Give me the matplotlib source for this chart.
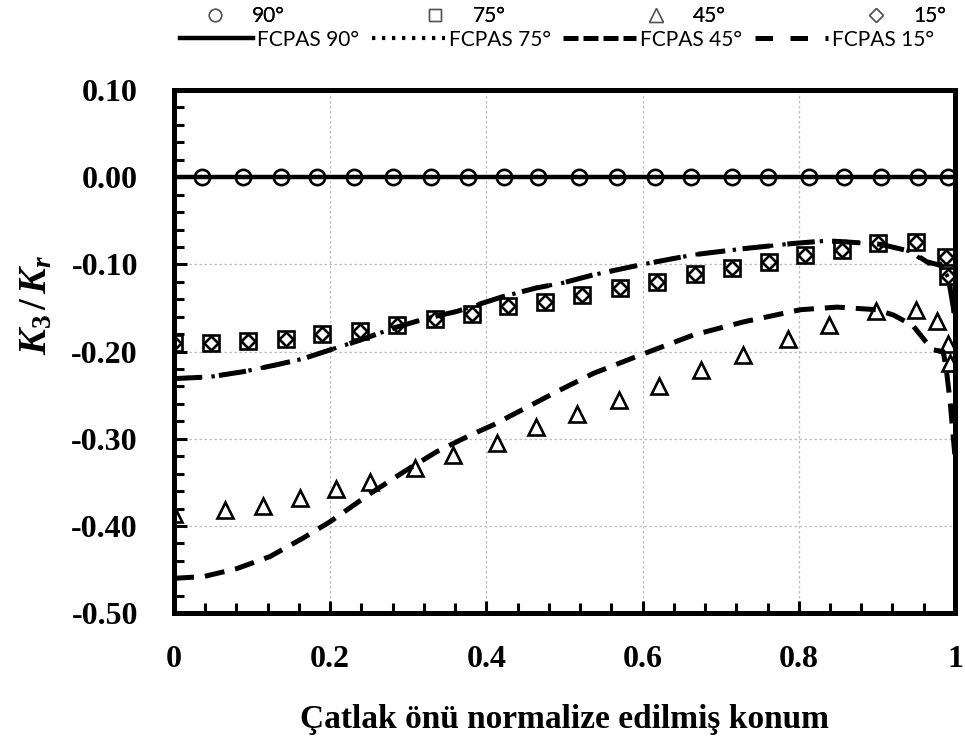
import matplotlib
matplotlib.use("Agg")
import matplotlib.pyplot as plt
from matplotlib.lines import Line2D
from matplotlib.ticker import MultipleLocator

# ---------------------------------------------------------------
# Data: K3/Kr along the normalized crack front
# ---------------------------------------------------------------
x_90 = [0.036, 0.088, 0.137, 0.183, 0.231, 0.281, 0.329, 0.376, 0.423, 0.466,
        0.519, 0.567, 0.616, 0.662, 0.714, 0.761, 0.813, 0.858, 0.905, 0.953, 0.991]
k_90 = [0.0] * 21

x_75 = [0.0, 0.048, 0.095, 0.143, 0.190, 0.238, 0.286, 0.334, 0.381, 0.428, 0.475,
        0.523, 0.571, 0.619, 0.667, 0.714, 0.762, 0.808, 0.855, 0.902, 0.950, 0.988, 0.991]
k_75 = [-0.190, -0.190, -0.188, -0.185, -0.180, -0.176, -0.169, -0.163, -0.157, -0.148,
        -0.143, -0.135, -0.127, -0.120, -0.111, -0.104, -0.097, -0.089, -0.083, -0.076,
        -0.074, -0.092, -0.113]

x_15 = [0.0, 0.048, 0.095, 0.143, 0.190, 0.238, 0.286, 0.334, 0.381, 0.428, 0.475,
        0.523, 0.571, 0.619, 0.667, 0.714, 0.762, 0.808, 0.855, 0.902, 0.950, 0.988, 0.991]
k_15 = [-0.190, -0.190, -0.188, -0.185, -0.180, -0.176, -0.169, -0.163, -0.157, -0.148,
        -0.143, -0.135, -0.127, -0.120, -0.111, -0.104, -0.097, -0.089, -0.083, -0.076,
        -0.074, -0.092, -0.113]

x_45 = [0.0, 0.065, 0.114, 0.161, 0.208, 0.251, 0.309, 0.357, 0.414, 0.464, 0.516,
        0.570, 0.621, 0.675, 0.728, 0.786, 0.839, 0.899, 0.950, 0.977, 0.991, 0.994]
k_45 = [-0.386, -0.382, -0.377, -0.368, -0.358, -0.349, -0.334, -0.319, -0.305, -0.286,
        -0.272, -0.256, -0.239, -0.221, -0.204, -0.185, -0.170, -0.153, -0.152, -0.165,
        -0.191, -0.213]

# FCPAS curves
xf_90 = [0.0, 1.0]
kf_90 = [0.0, 0.0]

xf_75 = [0.0, 0.046, 0.089, 0.132, 0.166, 0.200, 0.238, 0.281, 0.323, 0.362, 0.421,
         0.464, 0.499, 0.537, 0.600, 0.665, 0.729, 0.793, 0.835, 0.857, 0.905, 0.943,
         0.964, 0.981, 0.992, 0.998, 1.0]
kf_75 = [-0.231, -0.229, -0.223, -0.215, -0.208, -0.198, -0.187, -0.173, -0.162, -0.154,
         -0.137, -0.127, -0.121, -0.112, -0.100, -0.089, -0.082, -0.076, -0.073, -0.074,
         -0.077, -0.085, -0.099, -0.099, -0.116, -0.145, -0.160]

xf_15 = [0.0, 0.046, 0.089, 0.132, 0.166, 0.200, 0.238, 0.281, 0.323, 0.362, 0.421,
         0.464, 0.499, 0.537, 0.600, 0.665, 0.729, 0.793, 0.835, 0.857, 0.905, 0.943,
         0.964, 0.981, 0.992, 0.998, 1.0]
kf_15 = [-0.231, -0.229, -0.223, -0.215, -0.208, -0.198, -0.187, -0.173, -0.162, -0.154,
         -0.137, -0.127, -0.121, -0.112, -0.100, -0.089, -0.082, -0.076, -0.073, -0.074,
         -0.077, -0.085, -0.097, -0.101, -0.118, -0.150, -0.170]

xf_45 = [0.0, 0.038, 0.080, 0.123, 0.165, 0.200, 0.251, 0.294, 0.336, 0.379, 0.409,
         0.490, 0.537, 0.597, 0.665, 0.729, 0.802, 0.849, 0.900, 0.921, 0.946, 0.963,
         0.972, 0.985, 0.989, 0.994, 0.998, 1.0]
kf_45 = [-0.460, -0.458, -0.449, -0.435, -0.414, -0.395, -0.363, -0.338, -0.315, -0.296,
         -0.284, -0.246, -0.225, -0.204, -0.181, -0.166, -0.152, -0.149, -0.152, -0.158,
         -0.170, -0.189, -0.198, -0.200, -0.221, -0.259, -0.300, -0.320]

x_ticks = [0, 0.2, 0.4, 0.6, 0.8, 1]
x_tick_labels = ["0", "0.2", "0.4", "0.6", "0.8", "1"]
y_ticks = [0.10, 0.0, -0.10, -0.20, -0.30, -0.40, -0.50]
y_tick_labels = ["0.10", "0.00", "-0.10", "-0.20", "-0.30", "-0.40", "-0.50"]

# ---------------------------------------------------------------
# Figure
# ---------------------------------------------------------------
plt.rcParams["mathtext.fontset"] = "custom"
plt.rcParams["mathtext.it"] = "Liberation Serif:italic:bold"
plt.rcParams["mathtext.rm"] = "Liberation Serif:bold"

fig = plt.figure(figsize=(9.65, 7.43), dpi=100)
ax = fig.add_axes([0.1803, 0.1747, 0.8093, 0.7042])

mk = dict(linestyle="none", markerfacecolor="none", markeredgecolor="black",
          markeredgewidth=1.9, zorder=4)

ax.plot(xf_90, kf_90, color="black", lw=3.2, solid_capstyle="butt", zorder=3)
ax.plot(xf_45, kf_45, color="black", lw=3.6, dashes=(4.0, 2.2), zorder=3)
ax.plot(xf_15, kf_15, color="black", lw=3.6, dashes=(5.5, 3.5), zorder=3)
ax.plot(xf_75, kf_75, color="black", lw=3.0, dashes=(0.8, 2.2), zorder=3)

ax.plot(x_90, k_90, marker="o", markersize=11, **mk)
ax.plot(x_75, k_75, marker="s", markersize=11, **mk)
ax.plot(x_15, k_15, marker="D", markersize=7, **mk)
ax.plot(x_45, k_45, marker="^", markersize=12, **mk)

ax.set_xlim(0, 1)
ax.set_ylim(-0.5, 0.1)
ax.set_xticks(x_ticks)
ax.set_xticklabels(x_tick_labels)
ax.set_yticks(y_ticks)
ax.set_yticklabels(y_tick_labels)
ax.xaxis.set_minor_locator(MultipleLocator(0.04))
ax.yaxis.set_minor_locator(MultipleLocator(0.02))
ax.tick_params(which="both", direction="in", width=2.2, top=False, right=False)
ax.tick_params(which="major", length=9)
ax.tick_params(which="minor", length=7)
ax.tick_params(axis="x", which="major", pad=23)
ax.tick_params(axis="y", which="major", pad=26)
for lab in ax.get_xticklabels() + ax.get_yticklabels():
    lab.set_fontfamily("Liberation Serif")
    lab.set_fontweight("bold")
    lab.set_fontsize(23)

ax.grid(True, which="major", color="#bdbdbd", linestyle=(0, (2, 2)), linewidth=0.9)
ax.set_axisbelow(True)
for sp in ax.spines.values():
    sp.set_linewidth(3.6)

ax.set_xlabel("Çatlak önü normalize edilmiş konum", fontfamily="Liberation Serif",
              fontweight="bold", fontsize=24)
ax.xaxis.set_label_coords(0.5, -0.174)
ax.set_ylabel(r"$K_3\,/\,K_r$", fontsize=28)
ax.yaxis.set_label_coords(-0.153, 0.59)

# Legend: markers on the first row, FCPAS lines on the second
leg_font = dict(family="Lato", size=15)
row1 = [
    Line2D([], [], marker="o", ls="none", mfc="none", mec="#555555", mew=1.0, ms=9),
    Line2D([], [], marker="s", ls="none", mfc="none", mec="#555555", mew=1.0, ms=9),
    Line2D([], [], marker="^", ls="none", mfc="none", mec="#555555", mew=1.0, ms=10),
    Line2D([], [], marker="D", ls="none", mfc="none", mec="#555555", mew=1.0, ms=7),
]
row2 = [
    Line2D([], [], color="black", lw=3.2),
    Line2D([], [], color="black", lw=3.0, dashes=(0.8, 1.6)),
    Line2D([], [], color="black", lw=3.6, dashes=(3.0, 1.0)),
    Line2D([], [], color="black", lw=3.6, dashes=(3.5, 3.5)),
]
leg1 = fig.legend(row1, ["90°", "75°", "45°", "15°"], ncol=4, loc="upper left",
                  bbox_to_anchor=(194 / 965, 0.992), frameon=False, prop=leg_font,
                  borderpad=0.0, borderaxespad=0.0, handlelength=2.0,
                  handletextpad=0.8, columnspacing=6.2)
fig.add_artist(leg1)
fig.legend(row2, ["FCPAS 90°", "FCPAS 75°", "FCPAS 45°", "FCPAS 15°"], ncol=4,
           loc="upper left", bbox_to_anchor=(180 / 965, 0.960), frameon=False,
           prop=leg_font, borderpad=0.0, borderaxespad=0.0, handlelength=3.5,
           handletextpad=0.2, columnspacing=0.6)

fig.savefig("out.png", dpi=100)
